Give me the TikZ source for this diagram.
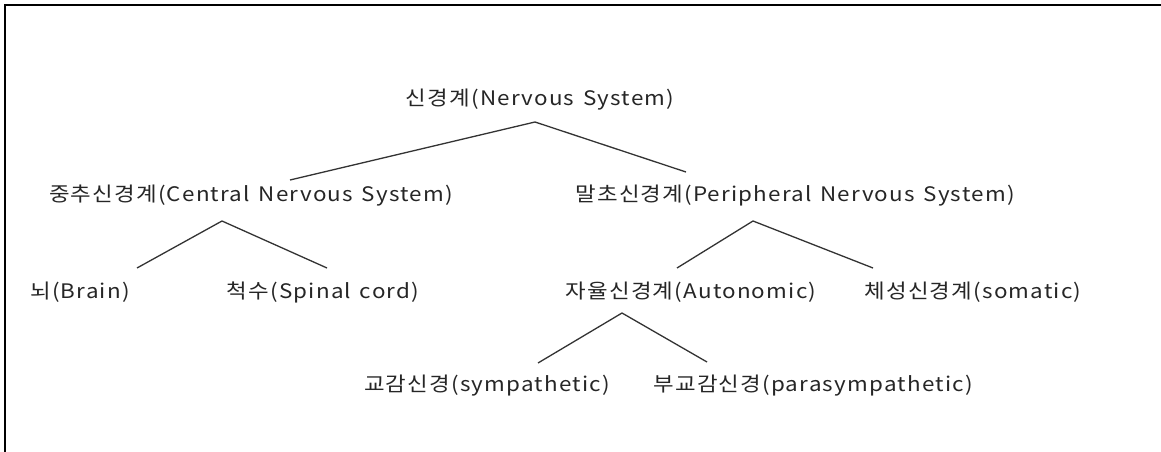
\documentclass[tikz,border=0pt]{standalone}
\usepackage{fontspec}
\setmainfont{Noto Sans CJK KR}[FakeStretch=1.12,LetterSpace=6,WordSpace=1.4]
\begin{document}
\begin{tikzpicture}[x=1pt,y=-1pt,
  lbl/.style={inner sep=0pt,font=\fontsize{20}{23}\selectfont,text=black!85},
  conn/.style={draw=black!80,line width=1.3pt}]
\useasboundingbox (0,0) rectangle (1161,452);
\fill[white] (0,0) rectangle (1161,452);
\coordinate (bl) at (5,452);
\coordinate (tl) at (5,5);
\coordinate (tr) at (1161,5);
\draw[line width=1.6pt,black] (bl) -- (tl) -- (tr);

\node[lbl] (root) at (540,100) {신경계(Nervous System)};
\node[lbl] (cns) at (251,196) {중추신경계(Central Nervous System)};
\node[lbl] (pns) at (795,196) {말초신경계(Peripheral Nervous System)};
\node[lbl] (brain) at (80,292) {뇌(Brain)};
\node[lbl] (spinal) at (323,292) {척수(Spinal cord)};
\node[lbl] (auto) at (691,292) {자율신경계(Autonomic)};
\node[lbl] (soma) at (973,292) {체성신경계(somatic)};
\node[lbl] (symp) at (487,386) {교감신경(sympathetic)};
\node[lbl] (para) at (813,386) {부교감신경(parasympathetic)};

\coordinate (rA) at (535,122);
\coordinate (rL) at (290,180);
\coordinate (rR) at (686,172);
\coordinate (cA) at (222,221);
\coordinate (cL) at (137,268);
\coordinate (cR) at (327,268);
\coordinate (pA) at (753,221);
\coordinate (pL) at (677,268);
\coordinate (pR) at (873,268);
\coordinate (aA) at (622,313);
\coordinate (aL) at (538,363);
\coordinate (aR) at (707,362);

\draw[conn] (rL) -- (rA) -- (rR);
\draw[conn] (cL) -- (cA) -- (cR);
\draw[conn] (pL) -- (pA) -- (pR);
\draw[conn] (aL) -- (aA) -- (aR);
\end{tikzpicture}
\end{document}
